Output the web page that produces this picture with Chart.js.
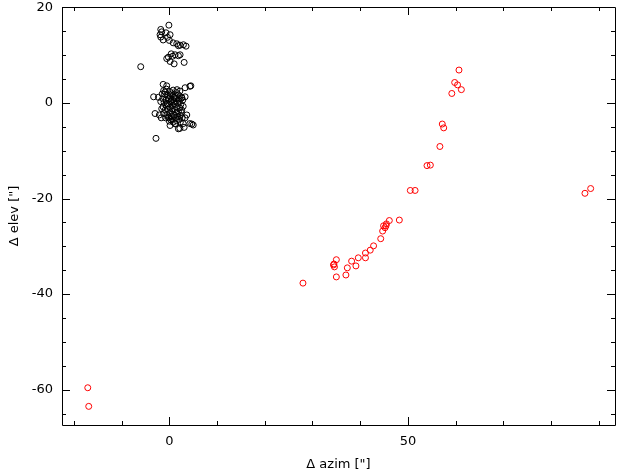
<!DOCTYPE html>
<html>
<head>
<meta charset="utf-8">
<script src="https://cdn.jsdelivr.net/npm/chart.js@4/dist/chart.umd.min.js"></script>
<style>
  body { margin: 0; background: #fff; }
  #wrap { width: 624px; height: 475px; }
</style>
</head>
<body>
<div id="wrap"><canvas id="c"></canvas></div>
<script>
// offsets, arcsec
const refPoints = [
  [-0.1, 16.3], [-1.8, 15.4], [-1.6, 14.9], [-0.7, 14.7], [0.15, 14.3], [-1.95, 14.3],
  [-1.8, 13.8], [-0.4, 13.75], [-1.3, 13.2], [0.0, 13.1], [0.8, 12.6], [1.55, 12.4],
  [2.25, 12.1], [2.95, 12.2], [3.5, 11.9], [1.9, 12.0], [0.4, 10.3], [1.2, 10.1],
  [1.9, 9.9], [0.7, 9.8], [-0.2, 9.6], [-0.55, 9.3], [2.25, 10.1], [0.15, 8.7],
  [1.0, 8.2], [3.1, 8.5], [-6.0, 7.6],
  [-1.2, 2.6], [-0.6, 2.9], [0.1, 2.4], [0.8, 2.7], [1.5, 2.2], [2.2, 2.5], [-1.0, 1.8],
  [-0.3, 1.6], [0.5, 1.9], [1.2, 1.4], [1.9, 1.7], [2.6, 1.2], [-1.4, 0.9], [-0.7, 0.6],
  [0.0, 1.0], [0.7, 0.7], [1.4, 0.9], [2.1, 0.4], [2.8, 0.6], [-1.1, 0.1], [-0.4, -0.2],
  [0.3, 0.2], [1.0, -0.1], [1.7, 0.0], [2.4, -0.3], [-1.3, -0.8], [-0.6, -0.6], [0.1, -0.9],
  [0.8, -0.5], [1.5, -0.8], [2.2, -1.0], [2.9, -0.7], [-0.9, -1.5], [-0.2, -1.3], [0.5, -1.7],
  [1.2, -1.4], [1.9, -1.8], [2.6, -1.5], [-1.2, -2.2], [-0.5, -2.4], [0.2, -2.0], [0.9, -2.5],
  [1.6, -2.2], [2.3, -2.6], [-0.8, -3.1], [-0.1, -2.9], [0.6, -3.3], [1.3, -3.0], [2.0, -3.4],
  [2.7, -3.1], [0.0, -3.8], [0.8, -4.0], [1.5, -3.7], [2.3, -4.0],
  [0.4, 0.5], [1.1, 0.3], [-0.2, 0.8], [0.6, -1.2], [1.8, -2.8], [0.3, -3.5], [1.0, 1.2],
  [-0.5, -0.1], [2.0, 0.9], [0.2, 1.5], [1.6, 2.8], [-0.9, 2.3], [1.3, -4.4], [0.4, -2.7],
  [2.5, -2.0], [-1.6, -1.2], [-1.8, 0.3], [-1.5, 1.9],
  [-1.3, 3.9], [-0.55, 3.6], [3.3, 3.2], [4.5, 3.6], [4.3, 3.5], [-3.3, 1.3], [-2.3, 1.2],
  [3.3, 1.3], [2.6, 1.05], [-3.0, -2.2], [-2.1, -2.5], [3.65, -2.5], [3.3, -3.1], [1.2, -4.3],
  [2.9, -4.3], [4.3, -4.3], [5.0, -4.6], [4.7, -4.4], [3.1, -5.1], [2.2, -5.3], [1.9, -5.4],
  [0.15, -4.7], [-1.7, -3.1], [-0.2, -3.1], [-2.8, -7.4]
];

const testPoints = [
  [-17.1, -59.6], [-16.9, -63.5],
  [28.0, -37.7], [35.0, -36.4], [37.0, -36.0], [34.4, -33.9], [34.6, -34.3], [34.5, -33.7],
  [35.0, -32.8], [37.3, -34.5], [39.1, -34.1], [38.2, -33.1], [39.6, -32.4], [41.1, -32.4],
  [41.1, -31.4], [42.1, -30.8], [42.8, -29.9], [44.3, -28.4], [44.7, -26.8], [45.2, -26.1],
  [44.9, -25.7], [45.4, -25.7], [45.5, -25.3], [46.1, -24.6], [48.2, -24.5],
  [50.5, -18.3], [51.5, -18.3], [54.0, -13.1], [54.7, -13.0], [56.7, -9.1],
  [57.2, -4.4], [57.5, -5.2], [59.2, 2.0], [59.8, 4.3], [60.4, 3.8], [61.2, 2.8],
  [60.7, 6.9], [87.1, -18.9], [88.3, -17.9]
];

const xRange = [-22.5, 93.4];
const yRange = [-67.4, 20.1];
const xTickLabels = [0, 50];
const yTickLabels = [-60, -40, -20, 0, 20];

const toXY = (arr) => arr.map((p) => ({ x: p[0], y: p[1] }));

// frame plus inward ticks on all four sides, placed through the scales
const frameTicks = {
  id: "frameTicks",
  afterDraw(chart) {
    const { ctx, chartArea: a, scales } = chart;
    const xs = scales.x, ys = scales.y;
    ctx.save();
    ctx.strokeStyle = "#000";
    ctx.lineWidth = 1;
    ctx.beginPath();
    ctx.rect(Math.round(a.left) + 0.5, Math.round(a.top) + 0.5,
      Math.round(a.right - a.left), Math.round(a.bottom - a.top));
    for (let v = Math.ceil(xs.min / 10) * 10; v <= xs.max; v += 10) {
      const px = Math.round(xs.getPixelForValue(v)) + 0.5;
      const len = v % 50 === 0 ? 8 : 4;
      ctx.moveTo(px, a.bottom); ctx.lineTo(px, a.bottom - len);
      ctx.moveTo(px, a.top); ctx.lineTo(px, a.top + len);
    }
    for (let v = Math.ceil(ys.min / 5) * 5; v <= ys.max; v += 5) {
      const py = Math.round(ys.getPixelForValue(v)) + 0.5;
      const len = v % 20 === 0 ? 8 : 4;
      ctx.moveTo(a.left, py); ctx.lineTo(a.left + len, py);
      ctx.moveTo(a.right, py); ctx.lineTo(a.right - len, py);
    }
    ctx.stroke();
    ctx.restore();
  },
};

const font = { family: "DejaVu Sans", size: 13 };

new Chart(document.getElementById("c"), {
  type: "scatter",
  data: {
    datasets: [
      {
        label: "ref",
        data: toXY(refPoints),
        borderColor: "#000",
        backgroundColor: "rgba(0,0,0,0)",
        pointRadius: 3,
        borderWidth: 1,
      },
      {
        label: "test",
        data: toXY(testPoints),
        borderColor: "#ff0000",
        backgroundColor: "rgba(0,0,0,0)",
        pointRadius: 3,
        borderWidth: 1,
      },
    ],
  },
  options: {
    responsive: true,
    maintainAspectRatio: false,
    devicePixelRatio: 1,
    animation: false,
    layout: { padding: { top: 7, right: 9, left: 0, bottom: 0 } },
    plugins: { legend: { display: false }, tooltip: { enabled: false } },
    scales: {
      x: {
        type: "linear",
        min: xRange[0],
        max: xRange[1],
        afterBuildTicks: (s) => { s.ticks = xTickLabels.map((v) => ({ value: v })); },
        afterFit: (s) => { s.height = 50; s.paddingLeft = 0; s.paddingRight = 0; },
        grid: { display: false, drawTicks: false },
        border: { display: false },
        ticks: { color: "#000", font, padding: 9, maxRotation: 0, callback: (v) => String(v) },
        title: { display: true, text: "Δ azim [\"]", color: "#000", font, padding: { top: 0, bottom: 3 } },
      },
      y: {
        type: "linear",
        min: yRange[0],
        max: yRange[1],
        afterBuildTicks: (s) => { s.ticks = yTickLabels.map((v) => ({ value: v })); },
        afterFit: (s) => { s.width = 62; s.paddingTop = 0; s.paddingBottom = 0; },
        grid: { display: false, drawTicks: false },
        border: { display: false },
        ticks: { color: "#000", font, padding: 9, callback: (v) => String(v) },
        title: { display: true, text: "Δ elev [\"]", color: "#000", font, padding: { top: 7, bottom: 0 } },
      },
    },
  },
  plugins: [frameTicks],
});
</script>
</body>
</html>
